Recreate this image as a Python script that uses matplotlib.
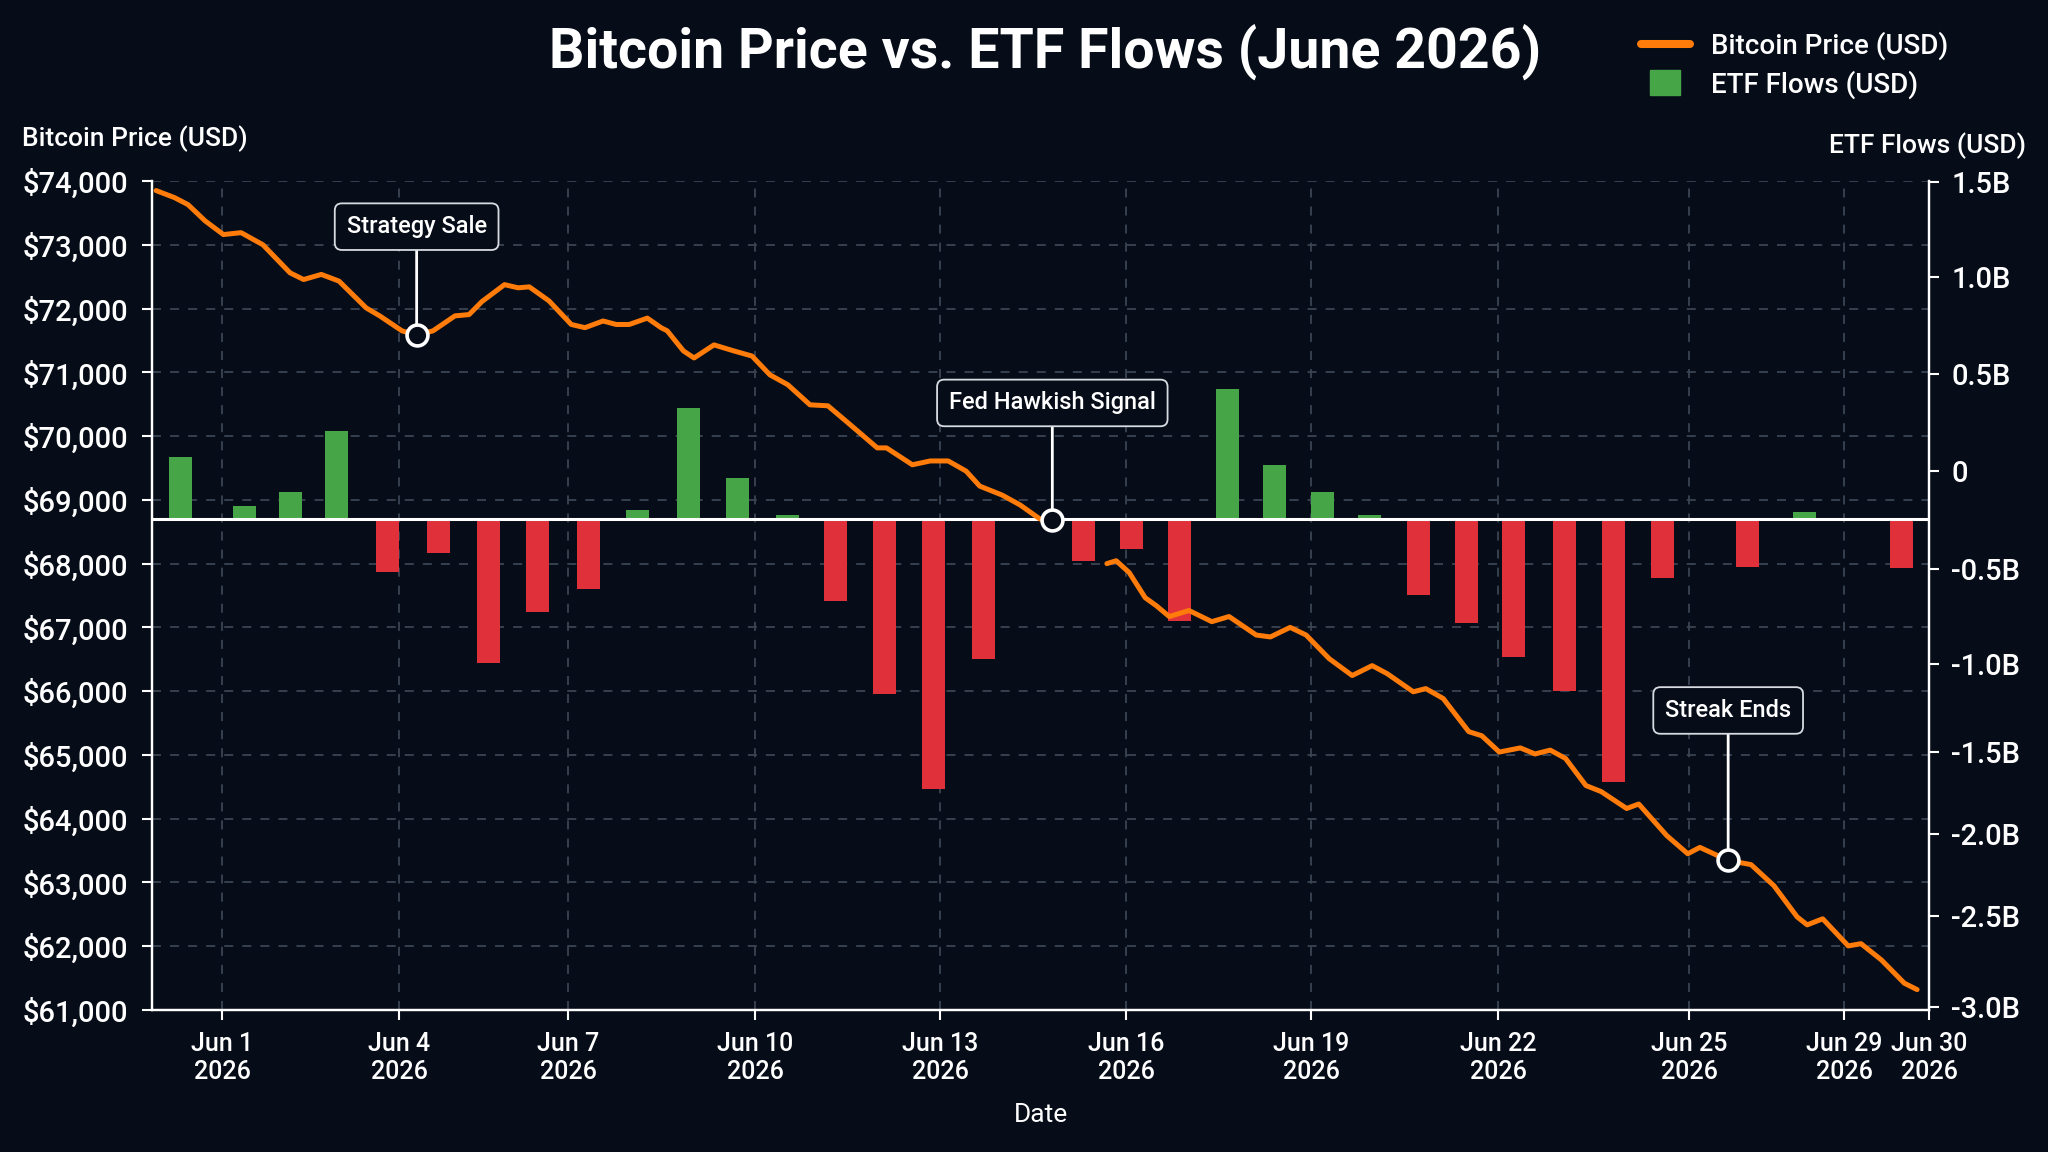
import numpy as np
import matplotlib.pyplot as plt
from matplotlib.lines import Line2D
from matplotlib.patches import Patch, Rectangle
from matplotlib.legend_handler import HandlerPatch
from matplotlib.ticker import FixedLocator, FuncFormatter

plt.rcParams['font.family'] = ['Roboto', 'DejaVu Sans']
plt.rcParams['font.weight'] = 'medium'

# Bitcoin price, x = day of June 2026 (fractional), nan = gap in the line
price_days = [-0.12, 0.19, 0.42, 0.71, 1.02, 1.32, 1.69, 2.15, 2.38, 2.68, 2.98, 3.44, 3.67,
              4.05, 4.31, 4.60, 4.99, 5.24, 5.47, 5.87, 6.11, 6.31, 6.66, 7.05, 7.27, 7.56,
              7.77, 7.98, 8.27, 8.49, 8.59, 8.85, 9.02, 9.34, 9.66, 9.95, 10.24, 10.53, 10.89,
              11.18, 11.54, 11.98, 12.13, 12.55, 12.84, 13.13, 13.42, 13.64, 14.00, 14.29,
              14.61, 14.81, np.nan, 15.69, 15.84, 16.05, 16.31, 16.49, 16.70, 17.02, 17.39,
              17.67, 18.11, 18.34, 18.66, 18.92, 19.29, 19.66, 19.98, 20.22, 20.64, 20.84,
              21.12, 21.53, 21.74, 22.02, 22.35, 22.58, 22.82, 23.06, 23.38, 23.62, 24.02,
              24.21, 24.65, 24.98, 25.28, 26.01, 26.60, 27.19, 27.79, 28.05, 28.45, 29.05,
              29.20, 29.44, 29.71, 29.86]
price_usd = [73850, 73740, 73630, 73375, 73160, 73190, 73000, 72560, 72455, 72535, 72430, 72010,
             71885, 71650, 71585, 71650, 71885, 71905, 72110, 72375, 72325, 72340, 72120, 71750,
             71700, 71805, 71750, 71750, 71850, 71700, 71650, 71335, 71225, 71430, 71335, 71255,
             70960, 70805, 70490, 70475, 70180, 69815, 69815, 69550, 69610, 69610, 69450, 69215,
             69075, 68920, 68700, 68690, np.nan, 68000, 68045, 67860, 67465, 67340, 67170, 67265,
             67090, 67170, 66880, 66850, 67000, 66880, 66510, 66245, 66400, 66275, 65990, 66040,
             65885, 65365, 65300, 65045, 65110, 65015, 65075, 64945, 64520, 64425, 64160, 64230,
             63735, 63450, 63550, 63345, 63280, 62950, 62460, 62335, 62430, 62005, 62040, 61785,
             61420, 61320]

# ETF flows (billion USD), measured from the white zero line
flow_days = [0.29, 1.37, 2.15, 2.93, 3.81, 4.69, 5.58, 6.46, 7.32, 8.12, 8.93, 9.72, 10.52,
             11.31, 12.09, 12.90, 13.70, 15.32, 16.08, 16.86, 17.64, 18.40, 19.19, 19.93,
             20.72, 21.49, 22.25, 23.04, 23.82, 24.59, 26.50, 27.99, 29.68]
flows_b = [0.32, 0.07, 0.14, 0.45, -0.27, -0.17, -0.75, -0.48, -0.36, 0.05, 0.57, 0.21, 0.02,
           -0.42, -0.93, -1.48, -0.73, -0.21, -0.15, -0.53, 0.67, 0.28, 0.14, 0.02, -0.39,
           -0.54, -0.72, -0.91, -1.44, -0.30, -0.24, 0.04, -0.25]

event_labels = ['Strategy Sale', 'Fed Hawkish Signal', 'Streak Ends']
event_days = [4.31, 14.81, 26.01]
event_prices = [71585, 68690, 63345]

tick_days = [1, 4, 7, 10, 13, 16, 19, 22, 25, 29, 30]
price_ticks = list(range(61000, 74001, 1000))
flow_ticks = [-3.0, -2.5, -2.0, -1.5, -1.0, -0.5, 0, 0.5, 1.0, 1.5]

# colours
BG = '#060d18'
ORANGE = '#ff7b0a'
GREEN = '#46a546'
RED = '#e0313a'
GRID = '#3a4452'
FG = 'white'

# uneven tick spacing of the original axes (relative units)
x_spacing = [-1607, 222, 399, 568, 755, 940, 1126, 1311, 1498, 1689, 1844, 1929, 4479]
x_anchor = [-30] + tick_days + [60]
y_spacing = [-2281, -1007, -916, -834, -752, -664, -570, -472, -375, -278, -183, 1337]
y_anchor = [-10] + flow_ticks + [10]


def xf(d):
    return np.interp(d, x_anchor, x_spacing)


def xi(p):
    return np.interp(p, x_spacing, x_anchor)


def yf(v):
    return np.interp(v, y_anchor, y_spacing)


def yi(p):
    return np.interp(p, y_spacing, y_anchor)


fig = plt.figure(figsize=(20.48, 11.52), dpi=100, facecolor=BG)
ax = fig.add_axes([152 / 2048, 1 - 1010 / 1152, 1777 / 2048, 829 / 1152])
ax.set_facecolor(BG)
ax.set_xscale('function', functions=(xf, xi))
ax2 = ax.twinx()
ax2.set_yscale('function', functions=(yf, yi))

# --- price axis (left)
ax.set_ylim(61000, 74000)
ax.set_yticks(price_ticks)
ax.yaxis.set_major_formatter(FuncFormatter(lambda v, p: f'${v:,.0f}'))
ax.set_xlim(-0.19, 30)
ax.xaxis.set_major_locator(FixedLocator(tick_days))
ax.xaxis.set_major_formatter(FuncFormatter(lambda v, p: f'Jun {int(round(v))}\n2026'))
ax.grid(True, color=GRID, linestyle=(0, (5, 5)), linewidth=1.3)
ax.set_axisbelow(True)

# --- flow bars (right)
ZERO_LINE = -0.245
bar_half = 11.5
fd = np.array(flow_days)
left = xi(xf(fd) - bar_half)
right = xi(xf(fd) + bar_half)
colors = [GREEN if v >= 0 else RED for v in flows_b]
ax2.bar(left, flows_b, width=right - left, align='edge', bottom=ZERO_LINE, color=colors,
        zorder=2)
ax2.axhline(ZERO_LINE, color=FG, lw=2.2, zorder=3)

# price line on top of bars
ax2.plot(price_days, price_usd, color=ORANGE, lw=3.6, transform=ax.transData,
         zorder=4, solid_capstyle='round')
ax2.plot(event_days, event_prices, 'o', ms=15, mfc=BG, mec=FG, mew=2.6,
         transform=ax.transData, zorder=6)

offsets = [78, 84, 108]
for lab, d, p, off in zip(event_labels, event_days, event_prices, offsets):
    ax2.annotate(lab, xy=(d, p), xycoords=ax.transData, xytext=(0, off),
                 textcoords='offset points', ha='center', va='center', color=FG,
                 fontsize=17, zorder=7,
                 bbox=dict(boxstyle='round,pad=0.5,rounding_size=0.3', fc=BG, ec='#d8dce2',
                           lw=1.3),
                 arrowprops=dict(arrowstyle='-', color=FG, lw=2, shrinkA=0, shrinkB=8))

ax2.set_ylim(-3.016, 1.505)
ax2.yaxis.set_major_locator(FixedLocator(flow_ticks))
ax2.yaxis.set_minor_locator(FixedLocator([]))


def flow_fmt(v, p):
    if abs(v) < 1e-9:
        return '0'
    return f'{v:.1f}B'


ax2.yaxis.set_major_formatter(FuncFormatter(flow_fmt))
ax.set_xlim(-0.19, 30)

# spines and ticks
for a in (ax, ax2):
    for s in a.spines.values():
        s.set_color(FG)
        s.set_linewidth(1.6)
    a.spines['top'].set_visible(False)
ax.tick_params(axis='y', colors=FG, labelsize=21, length=7, width=1.5, pad=10)
ax.tick_params(axis='x', colors=FG, labelsize=18, length=7, width=1.5, pad=9)
ax2.tick_params(axis='y', colors=FG, labelsize=21, length=7, width=1.5, pad=9)

ax.set_xlabel('Date', color=FG, fontsize=19, labelpad=14)

fig.text(1045 / 2048, 1 - 68 / 1152, 'Bitcoin Price vs. ETF Flows (June 2026)', color=FG,
         fontsize=40, fontweight='bold', ha='center', va='baseline')
fig.text(22 / 2048, 1 - 146 / 1152, 'Bitcoin Price (USD)', color=FG, fontsize=19,
         ha='left', va='baseline')
fig.text(2026 / 2048, 1 - 153 / 1152, 'ETF Flows (USD)', color=FG, fontsize=19,
         ha='right', va='baseline')


def narrow_patch(legend, orig_handle, xdescent, ydescent, width, height, fontsize):
    return Rectangle((-xdescent + width * 0.19, -ydescent - height * 0.15), width * 0.62,
                     height * 1.3)


leg_line = Line2D([], [], color=ORANGE, lw=5.8, solid_capstyle='round')
fig.legend(handles=[leg_line, Patch(color=GREEN)],
           labels=['Bitcoin Price (USD)', 'ETF Flows (USD)'],
           handler_map={Patch: HandlerPatch(patch_func=narrow_patch)},
           loc='upper left', bbox_to_anchor=(1630 / 2048, 1 - 20 / 1152), frameon=False,
           fontsize=20, labelcolor=FG, handlelength=1.75, handletextpad=0.75,
           labelspacing=0.38, borderaxespad=0)

fig.savefig('out.png', dpi=100, facecolor=BG)
